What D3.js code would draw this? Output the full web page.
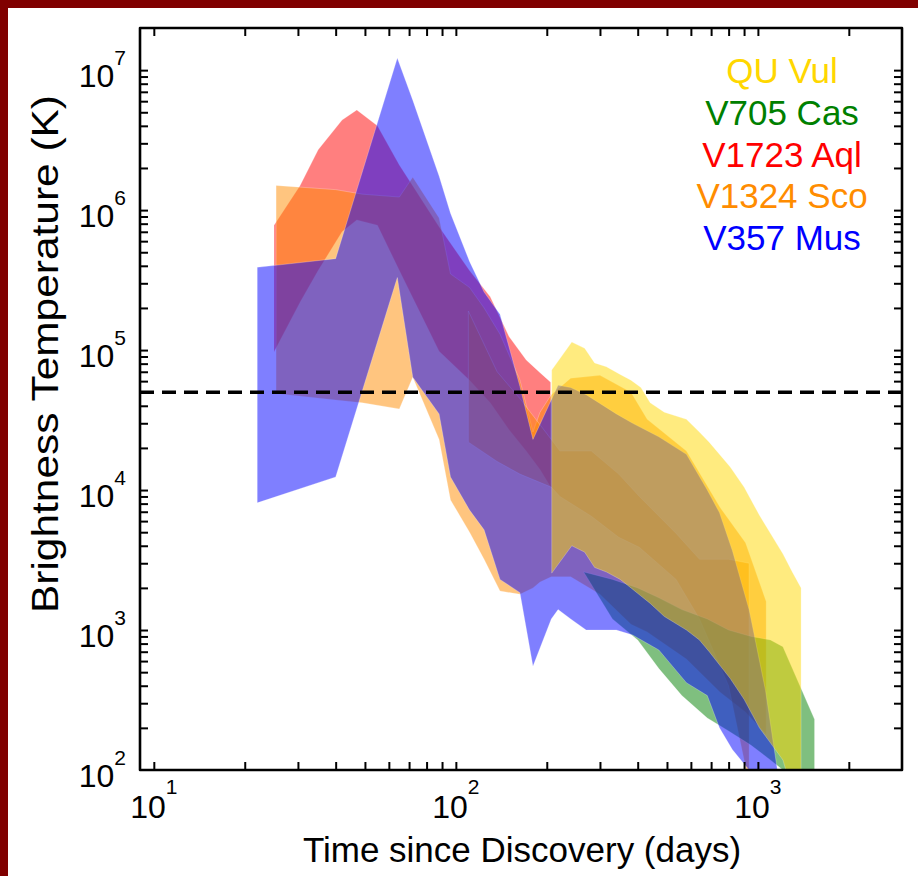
<!DOCTYPE html>
<html>
<head>
<meta charset="utf-8">
<title>Brightness Temperature of Novae</title>
<script src="https://cdn.jsdelivr.net/npm/d3@7"></script>
<style>
  body { margin: 0; background: #fff; }
  text { font-family: "Liberation Sans", Arial, Helvetica, sans-serif; }
</style>
</head>
<body>
<div id="chart"></div>
<script>
// axis ranges and reference level
var xDomain = [9, 3000],
    yDomain = [100, 2e7],
    thresholdK = 5e4;

var xLabelExps = [1, 2, 3],
    yLabelExps = [2, 3, 4, 5, 6, 7];

var legendNames = ['QU Vul', 'V705 Cas', 'V1723 Aql', 'V1324 Sco', 'V357 Mus'],
    legendColors = ['#FFD700', '#008000', '#FF0000', '#FF8C00', '#0000FF'];

// V1723 Aql
var aqlDays = [25, 30.5, 35, 42, 47, 55, 65, 88, 111, 130, 150, 171, 190, 206];
var aqlHigh = [7.8e5, 1.5e6, 2.7e6, 4.4e6, 5.2e6, 4.0e6, 2.1e6, 7.6e5, 3.7e5, 2.4e5, 1.25e5, 8.5e4, 6.9e4, 5.9e4];
var aqlLow  = [9.7e4, 2.2e5, 3.7e5, 7.0e5, 8.5e5, 7.8e5, 3.7e5, 9.8e4, 6.1e4, 4.2e4, 2.7e4, 1.9e4, 1.4e4, 1.05e4];

// V1324 Sco, wide band
var scoDays = [25.4, 40, 49, 65, 72, 88, 96, 111, 124, 140, 163, 180, 190, 207, 240, 300, 380, 430, 580, 750, 910, 1065];
var scoHigh = [1.5e6, 1.4e6, 1.3e6, 1.24e6, 1.72e6, 8.8e5, 3.5e5, 2.8e5, 2.0e5, 1.3e5, 6.1e4, 2.6e4, 3.6e4, 4.8e4, 6.3e4, 6.6e4, 5.0e4, 3.2e4, 1.9e4, 7.5e3, 4.2e3, 1.6e3];
var scoLow  = [4.9e4, 4.4e4, 4.2e4, 3.8e4, 6.4e4, 2.3e4, 8.5e3, 5.0e3, 3.2e3, 1.9e3, 1.8e3, 2.0e3, 2.2e3, 2.4e3, 2.4e3, 1.8e3, 1.1e3, 9.7e2, 6.2e2, 3.6e2, 2.6e2, 1.8e2];

// V1324 Sco, narrow band
var sco2Days = [110, 137, 163, 207, 221, 281, 346, 405, 536, 641, 800, 935];
var sco2High = [1.9e5, 7.0e4, 4.5e4, 2.3e4, 1.9e4, 1.9e4, 1.3e4, 9e3, 4.9e3, 3.2e3, 3.2e3, 3.0e3];
var sco2Low  = [2.2e4, 1.6e4, 1.3e4, 1.05e4, 9e3, 6.5e3, 4.6e3, 3.9e3, 2.3e3, 1.2e3, 4e2, 80];

// V705 Cas
var casDays = [265, 330, 400, 470, 560, 680, 800, 950, 1100, 1210, 1540];
var casHigh = [2.6e3, 2.3e3, 2.0e3, 1.7e3, 1.4e3, 1.2e3, 1.0e3, 9e2, 8.5e2, 7.6e2, 2.3e2];
var casLow  = [2.6e3, 1.2e3, 8.5e2, 5.3e2, 3.4e2, 2.35e2, 1.9e2, 1.5e2, 1.18e2, 1.0e2, 70];

// V357 Mus
var musDays = [22, 40, 64, 72, 88, 96, 111, 124, 140, 163, 180, 207, 218, 240, 270, 340, 385, 470, 580, 680, 746, 823, 935, 1060, 1160];
var musHigh = [3.9e5, 4.5e5, 1.22e7, 6.1e6, 1.75e6, 9.5e5, 4.3e5, 2.6e5, 1.8e5, 5.5e4, 2.3e4, 4.4e4, 5.6e4, 5.4e4, 4.8e4, 3.5e4, 3.0e4, 2.4e4, 1.8e4, 1.0e4, 6.9e3, 3.7e3, 1.4e3, 3.7e2, 100];
var musLow  = [8.1e3, 1.24e4, 3.3e5, 6.4e4, 3.5e4, 1.24e4, 7.2e3, 5.2e3, 2.3e3, 1.85e3, 5.5e2, 1.2e3, 1.4e3, 1.2e3, 1.0e3, 1.0e3, 9.2e2, 7.2e2, 4.2e2, 3.4e2, 2.0e2, 1.4e2, 100, 60, 60];

// QU Vul
var vulDays = [207.7, 242, 267, 288, 315, 350, 380, 410, 440, 490, 580, 640, 690, 810, 900, 1012, 1210, 1300, 1390];
var vulHigh = [7.2e4, 1.14e5, 1.03e5, 8.1e4, 7.6e4, 6.7e4, 6.1e4, 5.4e4, 4.2e4, 3.6e4, 3.2e4, 2.6e4, 2.2e4, 1.46e4, 1.05e4, 6.6e3, 3.5e3, 2.6e3, 2.0e3];
var vulLow  = [2.55e3, 4.0e3, 3.6e3, 2.8e3, 2.6e3, 2.3e3, 2.0e3, 1.75e3, 1.55e3, 1.25e3, 1.0e3, 8.5e2, 7.0e2, 4.5e2, 3.2e2, 2.0e2, 1.18e2, 70, 70];

// drawing order, back to front
var bands = [
    {color: '#FF0000', days: aqlDays, high: aqlHigh, low: aqlLow},
    {color: '#FF8C00', days: scoDays, high: scoHigh, low: scoLow},
    {color: '#FF8C00', days: sco2Days, high: sco2High, low: sco2Low},
    {color: '#008000', days: casDays, high: casHigh, low: casLow},
    {color: '#0000FF', days: musDays, high: musHigh, low: musLow},
    {color: '#FFD700', days: vulDays, high: vulHigh, low: vulLow}
];

var width = 918, height = 876;
var plot = {left: 140, right: 902, top: 28, bottom: 770};

var x = d3.scaleLog().domain(xDomain).range([plot.left, plot.right]);
var y = d3.scaleLog().domain(yDomain).range([plot.bottom, plot.top]);

var svg = d3.select('#chart').append('svg')
    .attr('width', width)
    .attr('height', height);

svg.append('rect').attr('width', width).attr('height', height).attr('fill', '#fff');
// dark red page edge
svg.append('rect').attr('x', 0).attr('y', 0).attr('width', 8).attr('height', height).attr('fill', '#800000');
svg.append('rect').attr('x', 0).attr('y', 0).attr('width', width).attr('height', 8).attr('fill', '#800000');

svg.append('clipPath').attr('id', 'plot-clip')
    .append('rect')
    .attr('x', plot.left).attr('y', plot.top)
    .attr('width', plot.right - plot.left)
    .attr('height', plot.bottom - plot.top);

var area = d3.area()
    .x(function(d) { return x(d.t); })
    .y0(function(d) { return y(d.lo); })
    .y1(function(d) { return y(d.hi); });

var bandLayer = svg.append('g').attr('clip-path', 'url(#plot-clip)');

bandLayer.selectAll('path.band')
    .data(bands)
    .enter()
    .append('path')
    .attr('class', 'band')
    .attr('d', function(b) {
        return area(b.days.map(function(t, i) { return {t: t, hi: b.high[i], lo: b.low[i]}; }));
    })
    .attr('fill', function(b) { return b.color; })
    .attr('fill-opacity', 0.5)
    .attr('stroke', '#fff')
    .attr('stroke-opacity', 0.3)
    .attr('stroke-width', 0.8);

// dashed reference line
bandLayer.append('line')
    .attr('x1', plot.left).attr('x2', plot.right)
    .attr('y1', y(thresholdK)).attr('y2', y(thresholdK))
    .attr('stroke', '#000')
    .attr('stroke-width', 3.5)
    .attr('stroke-dasharray', '14,8');

// ticks on all four sides, pointing inward
var xTicks = x.ticks().filter(function(v) { return v >= 10 && v < xDomain[1]; });
var yTicks = y.ticks().filter(function(v) { return v > yDomain[0] && v < yDomain[1]; });

function tickStyle(g) {
    g.select('.domain').remove();
    g.selectAll('line').attr('stroke', '#000').attr('stroke-width', 2);
}

svg.append('g').attr('transform', 'translate(0,' + plot.bottom + ')')
    .call(d3.axisBottom(x).tickValues(xTicks).tickSize(-8).tickFormat(''))
    .call(tickStyle);
svg.append('g').attr('transform', 'translate(0,' + plot.top + ')')
    .call(d3.axisTop(x).tickValues(xTicks).tickSize(-8).tickFormat(''))
    .call(tickStyle);
svg.append('g').attr('transform', 'translate(' + plot.left + ',0)')
    .call(d3.axisLeft(y).tickValues(yTicks).tickSize(-8).tickFormat(''))
    .call(tickStyle);
svg.append('g').attr('transform', 'translate(' + plot.right + ',0)')
    .call(d3.axisRight(y).tickValues(yTicks).tickSize(-8).tickFormat(''))
    .call(tickStyle);

// frame
svg.append('rect')
    .attr('x', plot.left).attr('y', plot.top)
    .attr('width', plot.right - plot.left)
    .attr('height', plot.bottom - plot.top)
    .attr('fill', 'none')
    .attr('stroke', '#000')
    .attr('stroke-width', 2.6)
    .attr('stroke-linejoin', 'round');

// power-of-ten tick labels
var xLab = svg.selectAll('text.xlab')
    .data(xLabelExps)
    .enter()
    .append('text')
    .attr('class', 'xlab')
    .attr('x', function(e) { return x(Math.pow(10, e)); })
    .attr('y', plot.bottom + 48)
    .attr('text-anchor', 'middle')
    .attr('font-size', 32);
xLab.append('tspan').text('10');
xLab.append('tspan').attr('font-size', 21).attr('dy', -24).text(function(e) { return e; });

var yLab = svg.selectAll('text.ylab')
    .data(yLabelExps)
    .enter()
    .append('text')
    .attr('class', 'ylab')
    .attr('x', plot.left - 14)
    .attr('y', function(e) { return y(Math.pow(10, e)) + 17; })
    .attr('text-anchor', 'end')
    .attr('font-size', 32);
yLab.append('tspan').text('10');
yLab.append('tspan').attr('font-size', 21).attr('dy', -22).text(function(e) { return e; });

// axis titles
svg.append('text')
    .attr('x', (plot.left + plot.right) / 2 + 1)
    .attr('y', 862)
    .attr('text-anchor', 'middle')
    .attr('font-size', 35)
    .text('Time since Discovery (days)');

svg.append('text')
    .attr('transform', 'translate(58,' + ((plot.top + plot.bottom) / 2 - 45) + ') rotate(-90)')
    .attr('text-anchor', 'middle')
    .attr('font-size', 36)
    .attr('textLength', 518)
    .attr('lengthAdjust', 'spacingAndGlyphs')
    .text('Brightness Temperature (K)');

// legend
svg.selectAll('text.legend')
    .data(legendNames)
    .enter()
    .append('text')
    .attr('class', 'legend')
    .attr('x', 782)
    .attr('y', function(d, i) { return 83 + i * 41.8; })
    .attr('text-anchor', 'middle')
    .attr('font-size', 35)
    .attr('fill', function(d, i) { return legendColors[i]; })
    .text(function(d) { return d; });
</script>
</body>
</html>
